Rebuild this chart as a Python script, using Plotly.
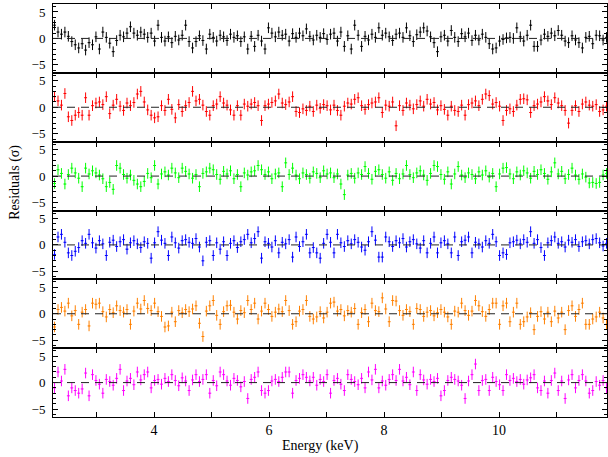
import plotly.graph_objects as go

energy_kev = [2.27, 2.33, 2.39, 2.45, 2.51, 2.57, 2.63, 2.69, 2.75, 2.81,
              2.87, 2.93, 2.99, 3.05, 3.11, 3.17, 3.23, 3.29, 3.35, 3.41,
              3.47, 3.53, 3.59, 3.65, 3.71, 3.77, 3.83, 3.89, 3.95, 4.01,
              4.07, 4.13, 4.19, 4.25, 4.31, 4.37, 4.43, 4.49, 4.55, 4.61,
              4.67, 4.73, 4.79, 4.85, 4.91, 4.97, 5.03, 5.09, 5.15, 5.21,
              5.27, 5.33, 5.39, 5.45, 5.51, 5.57, 5.63, 5.69, 5.75, 5.81,
              5.87, 5.93, 5.99, 6.05, 6.11, 6.17, 6.23, 6.29, 6.35, 6.41,
              6.47, 6.53, 6.59, 6.65, 6.71, 6.77, 6.83, 6.89, 6.95, 7.01,
              7.07, 7.13, 7.19, 7.25, 7.31, 7.37, 7.43, 7.49, 7.55, 7.61,
              7.67, 7.73, 7.79, 7.85, 7.91, 7.97, 8.03, 8.09, 8.15, 8.21,
              8.27, 8.33, 8.39, 8.45, 8.51, 8.57, 8.63, 8.69, 8.75, 8.81,
              8.87, 8.93, 8.99, 9.05, 9.11, 9.17, 9.23, 9.29, 9.35, 9.41,
              9.47, 9.53, 9.59, 9.65, 9.71, 9.77, 9.83, 9.89, 9.95, 10.01,
              10.07, 10.13, 10.19, 10.25, 10.31, 10.37, 10.43, 10.49, 10.55, 10.61,
              10.67, 10.73, 10.79, 10.85, 10.91, 10.97, 11.03, 11.09, 11.15, 11.21,
              11.27, 11.33, 11.39, 11.45, 11.51, 11.57, 11.63, 11.69, 11.75, 11.81,
              11.87]
bin_half_width_kev = 0.025
residual_sigma = 1.0

res_black = [2.5, 1.2, 0.8, 1.2, 0.4, -0.6, -1.2, -1.8, -1.0, -2.2,
             -0.8, -1.2, 0.3, -2.0, 1.2, 0.2, -0.9, -2.5, -0.4, 0.6,
             0.3, 1.0, 2.2, 1.0, 0.6, 1.2, 0.8, 0.2, 1.0, -0.5,
             2.5, 0.2, -0.5, 0.3, -0.8, 0.4, -0.3, 0.6, 2.5, -0.6,
             -1.8, -0.6, 0.5, -0.4, -2.0, 0.8, 0.2, -0.5, 0.6, 0.3,
             -0.4, 0.8, 0.2, 0.5, -0.6, 0.3, -2.0, 0.4, -1.5, 0.6,
             -0.5, -2.0, 2.0, 1.0, 0.3, 1.2, 0.6, 0.8, -0.5, 0.9,
             0.2, 1.0, 0.5, 1.8, 0.4, -0.3, 0.6, 0.2, 0.9, -0.2,
             0.8, 1.0, -0.5, 1.2, -1.5, 0.5, -2.0, 2.5, 0.6, -1.5,
             0.4, -0.3, 0.8, 0.2, 2.0, 0.6, 1.0, 0.3, -0.4, 0.8,
             1.0, 0.2, 2.0, 0.5, -0.6, 0.7, 1.2, 2.0, 1.4, 0.3,
             -0.8, -2.5, 0.3, 0.6, -0.5, 1.5, 0.2, -0.6, 0.9, 0.3,
             1.0, -0.4, 0.6, -0.3, 0.8, 0.2, -1.0, -2.0, -1.8, -0.5,
             -0.2, 0.1, 0.2, 0.0, 2.0, 0.3, -0.5, 0.6, 2.5, -1.5,
             -1.5, -0.3, 0.8, 0.4, 1.0, 0.5, 1.5, 0.6, -0.5, -0.8,
             0.5, -0.3, -0.8, -1.8, 0.2, 0.4, -1.0, 0.6, 0.5, -0.3,
             0.2]
res_red = [2.0, 1.2, 0.4, 2.6, -1.8, -2.5, -1.5, -1.0, -1.5, 1.8,
           -1.5, 0.3, 0.8, 1.0, 0.5, 2.0, -1.2, 0.4, 1.5, 0.2,
           -0.6, 0.8, 0.3, 0.9, 2.5, 3.0, 1.0, -0.5, -1.5, -2.0,
           -1.8, 0.3, -0.6, 1.5, -0.4, -2.0, 0.5, -0.8, 0.3, 0.9,
           3.0, 1.2, 1.5, 0.4, -0.8, -1.5, 0.3, 0.6, 2.0, 0.8,
           0.4, -0.5, -1.5, 0.3, -1.5, 0.6, 0.2, 0.6, 0.9, 0.3,
           -2.5, 0.3, 0.6, 0.9, 1.2, 2.5, 0.8, 0.5, 1.0, 2.0,
           -0.8, -1.0, -0.3, -0.6, 0.2, -0.8, 0.4, -0.2, 0.5, 0.3,
           -0.5, 0.4, -0.6, -1.5, 0.2, 0.8, 0.6, 1.5, 1.8, 0.3,
           -0.4, 0.5, 0.8, 1.0, 1.8, -1.0, 0.4, 0.2, 1.0, -3.5,
           0.3, -0.6, 0.8, 0.4, -0.3, 0.5, 1.2, 0.2, 1.5, 0.6,
           0.9, -0.5, 0.3, -0.4, -1.5, 0.2, -0.6, -0.8, 0.4, -1.5,
           0.5, 0.8, 1.2, 0.3, 1.5, 2.5, 2.2, 0.6, 0.9, 0.2,
           -2.5, -0.6, -0.3, -0.8, 0.4, 1.5, 1.6, 1.4, -1.0, 0.3,
           0.6, 1.0, 2.0, 1.2, 0.5, 1.8, 0.8, 0.3, -0.6, -3.0,
           -0.6, 0.3, -0.8, 0.6, 1.0, 0.4, 0.2, 0.5, -0.8, -0.5,
           0.2]
res_green = [-1.4, 1.2, 0.5, -1.5, 0.3, 1.5, 0.6, -0.4, -2.0, 1.5,
             0.4, 1.0, 0.6, 0.2, -0.5, -2.0, -1.2, -2.5, 2.0, 1.5,
             0.3, -0.4, 0.2, -0.8, -1.5, -2.0, -1.0, 0.5, -0.3, 2.0,
             -1.5, 0.4, 0.8, 0.2, 1.5, 0.6, -0.3, 1.5, 0.9, 0.4,
             -0.4, 0.3, -2.0, 0.5, 0.8, 1.5, 1.2, 0.3, -0.6, 0.9,
             0.4, 1.0, -0.5, 0.3, -2.0, 0.6, 0.2, 0.8, 1.0, 2.0,
             1.2, 0.3, 0.8, -0.5, 0.4, 0.6, -2.0, 2.5, 0.3, 1.5,
             0.2, -0.5, 0.6, 0.3, -0.4, 0.8, 0.5, -0.3, 1.0, 0.4,
             0.6, -0.3, 0.4, -1.5, -3.5, 0.2, 0.5, -0.4, 0.6, 0.3,
             1.8, 0.5, -0.6, 0.9, 1.2, 0.3, -0.4, 0.8, -0.8, 0.5,
             -0.5, 0.4, 2.0, 0.3, -0.3, 0.6, 1.0, 0.2, -0.8, 0.5,
             2.0, 1.8, 0.3, -0.6, 0.8, -1.5, 0.4, 1.8, 0.2, -0.3,
             0.6, 0.3, -0.5, 0.8, 0.2, 1.0, -0.2, 0.5, -2.0, 0.4,
             1.5, 1.6, 0.4, -0.5, 0.8, 0.2, 1.0, 0.6, -0.4, 0.9,
             0.3, 1.2, 0.5, -0.6, 0.8, 2.5, 0.4, 0.9, -0.5, 0.3,
             1.5, 0.2, -0.6, 0.4, -0.2, -1.3, -1.2, -1.4, -1.2, 0.2,
             0.5]
res_blue = [-1.8, 1.5, 2.0, 0.5, -1.5, -2.0, -1.2, -0.5, 0.8, 0.3,
            2.0, 0.4, -0.6, 0.8, 0.2, -2.0, 0.5, 0.9, -0.3, 0.6,
            1.0, -0.8, 0.4, 0.8, 0.2, -0.5, 0.6, 0.3, -2.5, 0.4,
            2.5, 0.9, 0.3, -2.0, 1.5, 0.4, -0.6, 0.8, 1.0, 0.5,
            0.3, 1.2, -0.4, -3.0, 0.5, 0.8, -2.0, 0.4, -0.8, 0.6,
            -2.0, 0.3, 0.8, -0.5, 0.6, 1.0, 2.0, 0.4, 1.2, 2.5,
            -2.5, 0.6, 0.3, -0.4, 0.8, -1.5, 0.5, 0.2, 1.0, -2.3,
            1.5, -0.3, 0.6, 2.0, -1.5, -0.5, -1.5, -2.5, 0.3, 2.0,
            0.5, -1.5, 2.0, 0.4, -0.3, 0.8, 0.2, 1.0, 0.5, -0.4,
            -1.0, 0.6, 2.5, 0.9, -2.3, -2.3, 1.5, 0.6, -0.3, 0.8,
            0.4, 1.2, -0.4, 0.6, 1.0, 0.2, -0.6, 0.8, -1.5, 0.3,
            1.5, -1.5, 0.4, 0.8, 0.2, -1.5, 1.5, -2.0, 0.6, 0.9,
            1.5, -1.5, 0.5, 0.2, -0.4, 0.8, 0.3, 2.0, 0.6, -2.0,
            -1.5, -1.8, 0.4, 0.6, 0.9, 0.2, 1.0, 0.5, 2.5, 0.3,
            1.0, -0.5, -2.0, 0.4, 0.8, 1.5, 0.3, 0.6, -0.4, 0.9,
            0.5, 1.0, -0.3, 0.6, 0.8, 0.2, 1.0, 1.2, 0.4, -0.2,
            0.3]
res_orange = [-2.5, 0.8, 1.2, 0.5, 2.0, -0.4, 0.6, -2.0, 0.3, 0.8,
              -2.3, 2.0, 1.8, 2.0, 0.4, -0.6, 0.8, 0.2, 1.5, 0.6,
              0.3, 0.8, -2.0, 0.5, 2.0, 0.9, 2.5, 1.0, 0.6, 2.0,
              0.4, -0.5, -2.5, -2.3, 0.3, -1.5, 0.6, 0.2, 0.8, 0.4,
              0.9, 1.5, -1.8, -4.3, 0.5, 1.5, 2.5, -0.3, -2.0, 0.4,
              1.5, 1.6, 0.3, -1.0, 0.6, 0.2, 2.5, 0.8, 2.0, -1.0,
              0.5, 2.0, 0.8, -0.5, 0.3, 0.9, 0.4, 2.5, 0.6, -2.0,
              -1.5, 0.5, 0.8, 2.5, -0.5, -1.0, -0.6, 0.4, -0.8, 0.3,
              2.0, 2.2, 0.5, 0.8, -0.4, 0.6, 0.3, 1.0, -2.0, 0.2,
              0.8, -1.5, 2.0, 0.6, 0.4, 3.0, 0.9, -1.5, 2.5, 2.4,
              0.6, -0.3, 0.8, 0.4, -2.0, 1.0, 0.8, -0.5, 0.3, 0.6,
              -0.4, 0.2, 0.8, 0.3, -0.6, -2.0, 0.5, 0.3, 2.0, 0.6,
              -0.3, 0.5, 2.5, 1.5, 0.4, -0.5, 0.8, 2.0, 2.0, -2.0,
              1.5, 2.0, -1.5, 0.3, 2.0, -2.0, -1.5, -0.6, 0.2, -3.0,
              -0.5, 0.4, -1.0, 0.3, -1.5, 0.5, -0.8, 0.3, -3.0, 0.6,
              1.5, -0.5, 0.8, 2.0, -2.0, -2.0, -1.0, -0.6, 0.3, -0.8,
              -2.0]
res_magenta = [-1.0, 2.0, 0.3, 2.5, -2.5, -1.0, -1.5, -2.0, -1.2, 1.8,
               -2.5, 1.5, 0.4, -0.3, -2.0, 0.6, 0.2, -0.5, 0.8, 2.5,
               -1.5, 0.3, 0.8, -0.4, 2.0, 0.5, 1.5, 2.0, -1.0, 0.4,
               0.6, -0.3, 0.8, 0.2, 1.5, 0.4, -0.6, 0.9, 0.3, -1.5,
               0.5, 1.5, 0.2, 0.6, 1.5, -2.0, 0.4, -0.6, 2.0, 1.5,
               0.3, -0.5, 0.8, 0.4, -0.8, 0.2, -3.0, 0.6, 1.0, 2.0,
               -1.5, -2.0, -1.5, 0.3, 0.6, 0.2, 1.0, 2.0, 2.0, -2.0,
               0.4, 0.8, 1.5, 1.0, 0.3, 1.0, -0.5, 0.6, 0.2, 1.5,
               -2.0, 0.4, 0.8, -0.3, -1.5, 1.5, 0.6, 0.2, -0.4, 0.8,
               -1.0, 2.0, 0.5, 2.5, -1.0, 0.3, -0.5, 0.6, 1.5, 0.4,
               2.5, 0.3, 1.0, -0.4, 2.0, -1.5, 1.5, 0.5, -0.3, 0.6,
               0.2, 0.8, -2.5, -1.5, 0.4, 1.0, 0.6, 0.3, -0.5, -3.0,
               0.3, 1.5, 3.5, -1.5, 0.4, 0.6, -1.5, 1.0, 0.2, -0.4,
               -1.5, 1.5, 0.4, 0.8, 0.2, 0.6, -0.3, 0.5, 0.9, 1.5,
               -1.0, -1.5, 0.3, -2.0, 0.4, 1.8, -1.5, 0.3, -3.0, 0.5,
               1.5, -1.0, 0.4, 1.5, 0.3, -2.0, -1.5, 0.2, -0.5, 0.4,
               -1.0]

x_tick_vals = [3, 4, 5, 6, 7, 8, 9, 10, 11]
x_tick_text = ["", "4", "", "6", "", "8", "", "10", ""]
y_tick_vals = [-5, 0, 5]
y_tick_text = ["\u22125", "0", "5"]
y_minor_vals = [-6, -4, -3, -2, -1, 1, 2, 3, 4, 6]

panels = [
    (res_black, "#000000"),
    (res_red, "#ff0000"),
    (res_green, "#00ff00"),
    (res_blue, "#0000ff"),
    (res_orange, "#ff8000"),
    (res_magenta, "#ff00ff"),
]

FONT = "Liberation Serif, Times New Roman, serif"
fig = go.Figure()
n = len(panels)
layout = {}
shapes = []
for k, (vals, color) in enumerate(panels):
    idx = k + 1
    xname = "x" if idx == 1 else f"x{idx}"
    yname = "y" if idx == 1 else f"y{idx}"
    fig.add_trace(go.Scatter(
        x=energy_kev, y=vals, mode="markers",
        marker=dict(size=1, color=color),
        error_x=dict(type="constant", value=bin_half_width_kev, color=color, thickness=1, width=0),
        error_y=dict(type="constant", value=residual_sigma, color=color, thickness=1, width=0),
        xaxis=xname, yaxis=yname, showlegend=False, hoverinfo="skip",
    ))
    top = 1 - k / n
    bot = 1 - (k + 1) / n
    layout["xaxis" if idx == 1 else f"xaxis{idx}"] = dict(
        domain=[0, 1], anchor=yname, range=[2.243, 11.878], automargin=False,
        tickmode="array", tickvals=x_tick_vals, ticktext=x_tick_text,
        showticklabels=(idx == n), ticks="inside", ticklen=5, tickwidth=1, tickcolor="black",
        mirror="allticks", showline=True, linecolor="black", linewidth=1,
        showgrid=False, zeroline=False,
        tickfont=dict(family=FONT, size=14, color="black"),
    )
    layout["yaxis" if idx == 1 else f"yaxis{idx}"] = dict(
        domain=[bot, top], anchor=xname, range=[-6.5, 6.5], automargin=False,
        tickmode="array", tickvals=y_tick_vals, ticktext=y_tick_text,
        ticks="inside", ticklen=5, tickwidth=1, tickcolor="black",
        minor=dict(tickmode="array", tickvals=y_minor_vals, ticks="inside", ticklen=3,
                   tickwidth=1, tickcolor="black"),
        mirror="allticks", showline=True, linecolor="black", linewidth=1,
        showgrid=False, zeroline=False, ticklabelstandoff=4,
        tickfont=dict(family=FONT, size=13, color="black"),
    )
    shapes.append(dict(type="line", xref=f"{xname} domain", yref=yname,
                       x0=0, x1=1, y0=0, y1=0,
                       line=dict(color="#222222", width=1, dash="8px,6px")))

fig.update_layout(
    width=608, height=457,
    margin=dict(l=53, r=1, t=4, b=40),
    paper_bgcolor="white", plot_bgcolor="white",
    shapes=shapes,
    annotations=[
        dict(text="Residuals (\u03c3)", xref="paper", yref="paper", x=-0.069, y=0.569,
             textangle=-90, showarrow=False, xanchor="center", yanchor="middle",
             font=dict(family=FONT, size=14, color="black")),
        dict(text="Energy (keV)", xref="paper", yref="paper", x=0.482, y=-0.07,
             showarrow=False, xanchor="center", yanchor="middle",
             font=dict(family=FONT, size=14, color="black")),
    ],
    **layout,
)

fig.write_html("out.html", config={"displayModeBar": False},
               post_script="document.body.style.margin='0';document.body.style.overflow='hidden';")
